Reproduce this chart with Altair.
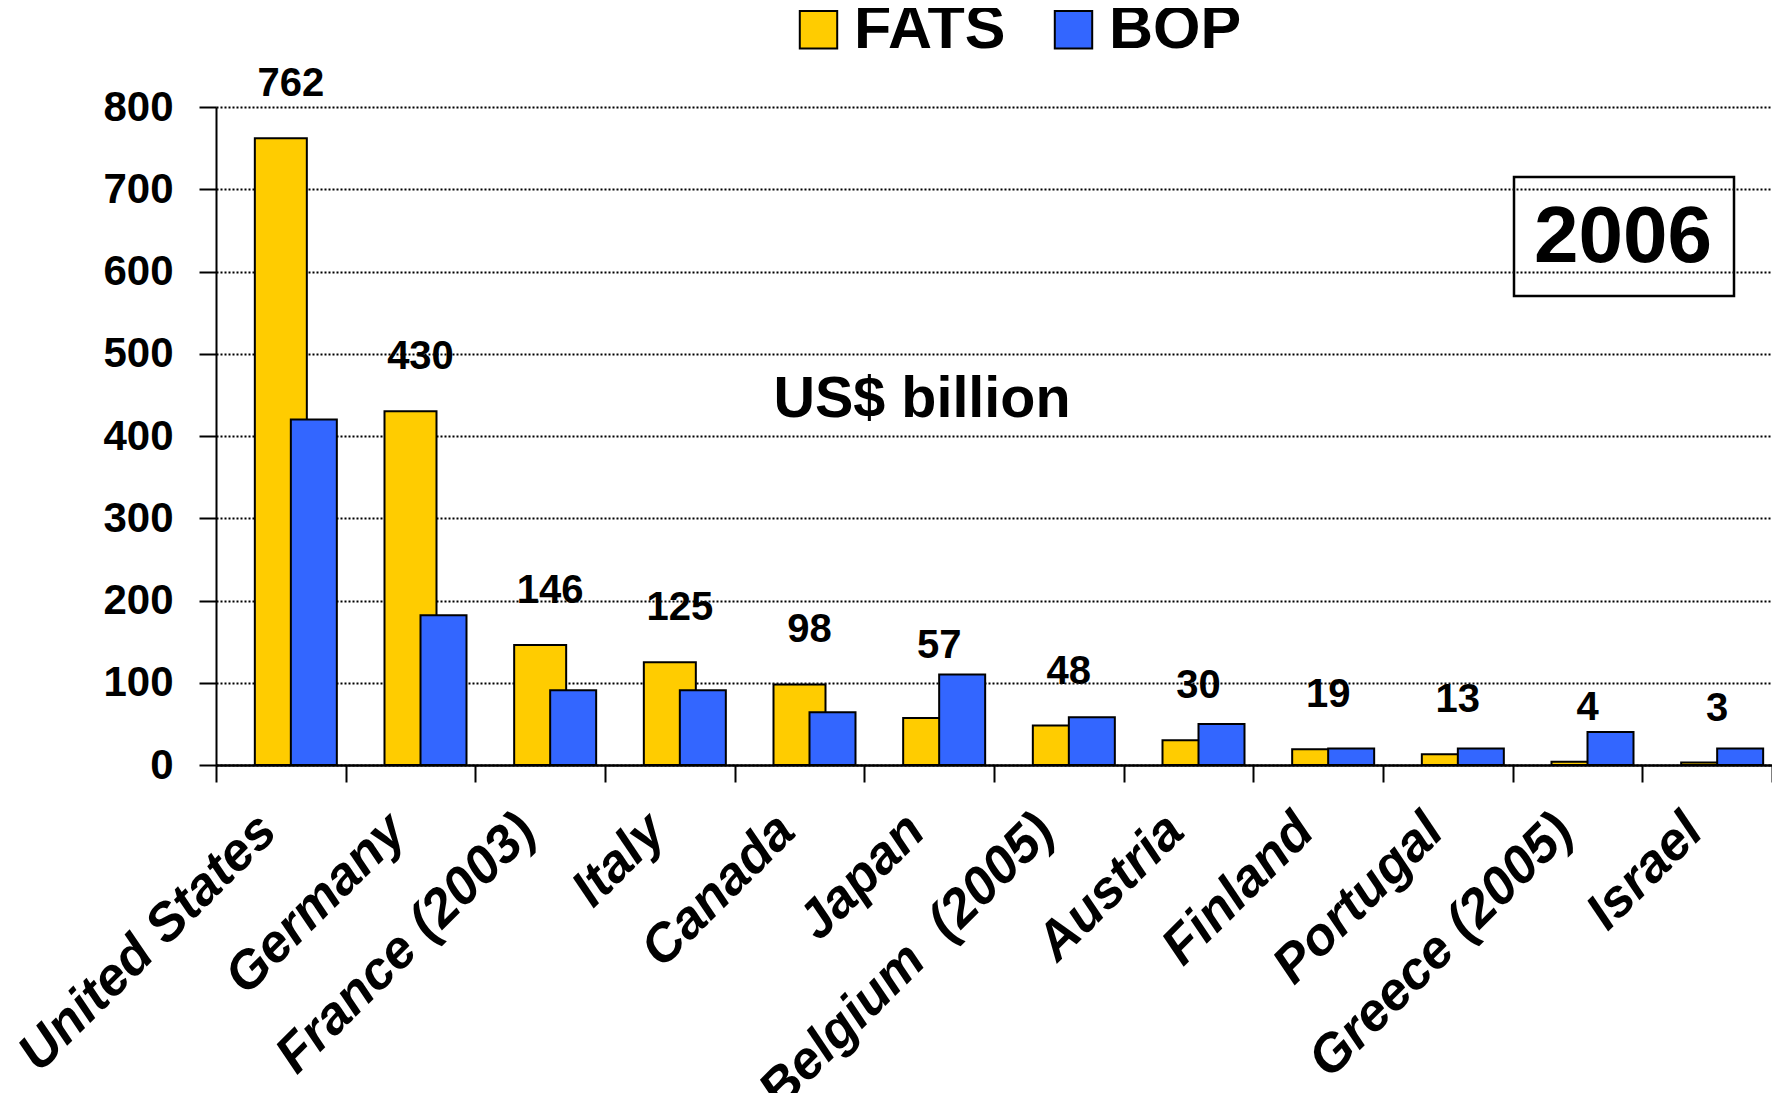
import altair as alt
import pandas as pd

countries = ["United States", "Germany", "France (2003)", "Italy", "Canada", "Japan",
             "Belgium \u00a0(2005)", "Austria", "Finland", "Portugal", "Greece (2005)", "Israel"]
fats = [762, 430, 146, 125, 98, 57, 48, 30, 19, 13, 4, 3]
bop = [420, 182, 91, 91, 64, 110, 58, 50, 20, 20, 40, 20]
series = ["FATS", "BOP"]
colors = ["#FFCC00", "#3366FF"]
y_ticks = [0, 100, 200, 300, 400, 500, 600, 700, 800]

FONT = "Liberation Sans"

rows = []
for c, f, b in zip(countries, fats, bop):
    rows.append({"country": c, "series": "FATS", "value": f})
    rows.append({"country": c, "series": "BOP", "value": b})
df = pd.DataFrame(rows)

x_enc = alt.X("country:N", sort=countries, title=None,
              scale=alt.Scale(paddingInner=0, paddingOuter=0),
              axis=alt.Axis(labelAngle=-45, labelAlign="right", labelBaseline="top",
                            labelFont=FONT, labelFontSize=53, labelFontWeight="bold",
                            labelFontStyle="italic", labelColor="black", labelLimit=0,
                            labelPadding=22, labelOffset=-32, tickBand="extent", tickSize=17,
                            tickColor="black", tickWidth=2, domainColor="black",
                            domainWidth=2.5, grid=False))
y_enc = alt.Y("value:Q", title=None,
              scale=alt.Scale(domain=[0, 800], nice=False),
              axis=alt.Axis(values=y_ticks, labelFont=FONT, labelFontSize=42,
                            labelFontWeight="bold", labelColor="black", labelPadding=26,
                            tickSize=17, tickColor="black", tickWidth=2,
                            domainColor="black", domainWidth=2,
                            grid=True, gridColor="black", gridDash=[2, 2], gridWidth=1.8))
color_enc = alt.Color("series:N", scale=alt.Scale(domain=series, range=colors),
                      legend=alt.Legend(title=None, orient="none", legendX=572, legendY=-108,
                                        direction="horizontal", symbolType="square",
                                        symbolSize=1400, symbolStrokeColor="black",
                                        symbolStrokeWidth=2, symbolOpacity=1,
                                        labelFont=FONT, labelFontSize=61,
                                        labelFontWeight="bold", labelColor="black",
                                        labelOffset=5, columnPadding=37, labelLimit=0,
                                        padding=0))

base = alt.Chart(df)

fats_bar = base.transform_filter(alt.datum.series == "FATS").mark_bar(
    width=52, stroke="black", strokeWidth=2
).encode(x=x_enc, y=y_enc, color=color_enc)

bop_bar = base.transform_filter(alt.datum.series == "BOP").mark_bar(
    width=46, xOffset=33, stroke="black", strokeWidth=2
).encode(x=x_enc, y=y_enc, color=color_enc)

labels = base.transform_filter(alt.datum.series == "FATS").mark_text(
    dy=-54, xOffset=10, yOffset=alt.expr("datum.country == 'Japan' ? -18 : 0"),
    font=FONT, fontSize=40, fontWeight="bold", color="black",
    baseline="middle", align="center"
).encode(x=x_enc, y=y_enc, text="value:Q")

box = alt.Chart(pd.DataFrame({"t": ["2006"]})).mark_rect(
    fillOpacity=0, stroke="black", strokeWidth=2.5
).encode(x=alt.value(1298), x2=alt.value(1518), y=alt.value(70), y2=alt.value(189))

year_txt = alt.Chart(pd.DataFrame({"t": ["2006"]})).mark_text(
    font=FONT, fontSize=80, fontWeight="bold", color="black", align="center", baseline="middle"
).encode(x=alt.value(1407), y=alt.value(131), text="t:N")

unit_txt = alt.Chart(pd.DataFrame({"t": ["US$ billion"]})).mark_text(
    font=FONT, fontSize=57.5, fontWeight="bold", color="black", align="center", baseline="middle"
).encode(x=alt.value(706), y=alt.value(293), text="t:N")

page_txt = alt.Chart(pd.DataFrame({"t": ["28"]})).mark_text(
    font=FONT, fontSize=30, color="black", align="center", baseline="top"
).encode(x=alt.value(1472), y=alt.value(984), text="t:N")

chart = alt.layer(fats_bar, bop_bar, labels, box, year_txt, unit_txt, page_txt).properties(
    width=1556, height=658,
    padding={"left": 208, "top": 99, "right": 0, "bottom": 328},
    autosize=alt.AutoSizeParams(type="none"),
    background="white"
).configure_view(stroke=None)

chart.save("out.html", embed_options={"renderer": "svg", "actions": False})
